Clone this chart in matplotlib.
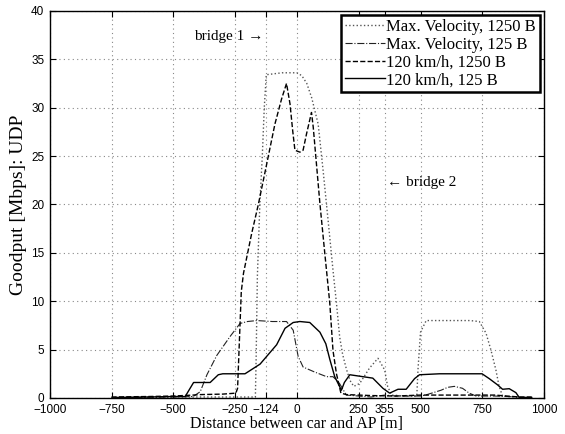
import matplotlib
matplotlib.use("Agg")
import matplotlib.pyplot as plt

# Max. Velocity, 1250 B (dotted)
mv1250_x = [-750, -500, -300, -168, -165, -160, -150, -140, -132, -124, -60, 0, 20, 40, 60,
            86, 106, 126, 146, 160, 173, 185, 200, 215, 230, 254, 294, 328, 355, 367, 383,
            440, 485, 490, 500, 523, 600, 700, 738, 765, 785, 805, 818, 832, 900]
mv1250_y = [0.05, 0.1, 0.1, 0.1, 4.0, 12.5, 20.0, 25.0, 30.0, 33.4, 33.6, 33.6, 33.3, 32.5, 31.0,
            28.3, 23.5, 18.4, 13.2, 9.8, 6.3, 4.5, 3.0, 1.8, 1.2, 1.5, 3.1, 4.1, 2.9, 1.2, 0.3,
            0.2, 0.2, 3.0, 6.8, 8.0, 8.0, 8.0, 7.9, 6.7, 4.95, 2.9, 1.2, 0.2, 0.05]

# Max. Velocity, 125 B (dash-dot)
mv125_x = [-750, -500, -420, -391, -364, -324, -269, -230, -200, -162, -100, -42, -15, 5, 25,
           70, 120, 146, 170, 200, 250, 300, 355, 400, 450, 500, 520, 583, 610, 637, 670, 697,
           725, 800, 900]
mv125_y = [0.05, 0.1, 0.15, 0.65, 2.4, 4.4, 6.4, 7.7, 7.9, 8.0, 7.9, 7.9, 7.0, 4.3, 3.2,
           2.7, 2.2, 2.2, 1.6, 0.3, 0.2, 0.1, 0.3, 0.2, 0.2, 0.2, 0.3, 0.8, 1.1, 1.2, 1.0, 0.5,
           0.2, 0.2, 0.1]

# 120 km/h, 1250 B (dashed)
kmh1250_x = [-750, -600, -500, -420, -390, -300, -247, -240, -225, -216, -183, -156, -122, -89,
             -62, -42, -28, -17, -8, 12, 25, 39, 59, 66, 79, 93, 113, 133, 146, 160, 178, 200,
             300, 400, 500, 600, 700, 800, 900, 950]
kmh1250_y = [0.1, 0.15, 0.2, 0.3, 0.35, 0.4, 0.5, 1.0, 11.0, 12.9, 17.0, 20.0, 24.2, 28.3,
             30.9, 32.5, 30.4, 27.6, 25.6, 25.4, 25.6, 27.3, 29.5, 28.0, 24.2, 20.1, 14.9, 9.8,
             4.9, 2.5, 0.5, 0.35, 0.25, 0.2, 0.3, 0.3, 0.3, 0.3, 0.1, 0.1]

# 120 km/h, 125 B (solid)
kmh125_x = [-727, -600, -500, -452, -418, -351, -318, -300, -210, -149, -82, -48, -15, 12, 52,
            93, 117, 133, 153, 180, 192, 214, 307, 348, 375, 409, 442, 476, 496, 577, 749, 778,
            812, 832, 859, 886, 899, 950]
kmh125_y = [0.05, 0.1, 0.15, 0.15, 1.6, 1.6, 2.4, 2.5, 2.5, 3.5, 5.5, 7.2, 7.8, 7.9, 7.8,
            6.8, 5.6, 4.0, 2.2, 0.8, 1.6, 2.4, 2.05, 1.0, 0.5, 0.9, 0.9, 2.0, 2.4, 2.5, 2.5, 2.0,
            1.35, 0.9, 0.96, 0.55, 0.07, 0.05]

x_ticks = [-1000, -750, -500, -250, -124, 0, 250, 355, 500, 750, 1000]
y_ticks = [0, 5, 10, 15, 20, 25, 30, 35, 40]

serif = "Liberation Serif"
sans = "Liberation Sans"

fig = plt.figure(figsize=(5.65, 4.34), dpi=100)
ax = fig.add_axes([0.088, 0.083, 0.875, 0.892])

ax.plot(mv1250_x, mv1250_y, ":", color="#555555", lw=1.0, label="Max. Velocity, 1250 B")
ax.plot(mv125_x, mv125_y, "-.", color="#222222", lw=0.8, label="Max. Velocity, 125 B")
ax.plot(kmh1250_x, kmh1250_y, "--", color="black", lw=1.0, label="120 km/h, 1250 B")
ax.plot(kmh125_x, kmh125_y, "-", color="black", lw=1.0, label="120 km/h, 125 B")

ax.set_xlim(-1000, 1000)
ax.set_ylim(0, 40)
ax.set_xticks(x_ticks)
ax.set_xticklabels([str(t).replace("-", "\u2212") for t in x_ticks], family=sans, fontsize=8.5)
ax.set_yticks(y_ticks)
ax.set_yticklabels([str(t) for t in y_ticks], family=sans, fontsize=8.5)
ax.tick_params(direction="in", top=True, right=True, length=4, width=0.8)
ax.tick_params(axis="x", pad=4.5)
ax.tick_params(axis="y", pad=4)
ax.grid(True, linestyle=(0, (1, 3)), color="#888888", lw=0.8)
for s in ax.spines.values():
    s.set_linewidth(1.0)

ax.set_xlabel("Distance between car and AP [m]", family=serif, fontsize=11.5, labelpad=0)
ax.set_ylabel("Goodput [Mbps]: UDP", family=serif, fontsize=14, labelpad=3)

ax.text(-274, 37.4, "bridge 1 \u2192", family=serif, fontsize=11, ha="center", va="center")
ax.text(504, 22.3, "\u2190 bridge 2", family=serif, fontsize=11, ha="center", va="center")

leg = ax.legend(loc="upper right", prop={"family": serif, "size": 12}, fancybox=False,
                edgecolor="black", framealpha=1, borderaxespad=0.25, handlelength=2.4,
                handletextpad=0.05, labelspacing=0.1, borderpad=0.25)
leg.get_frame().set_linewidth(1.8)

fig.savefig("out.png", dpi=100)
